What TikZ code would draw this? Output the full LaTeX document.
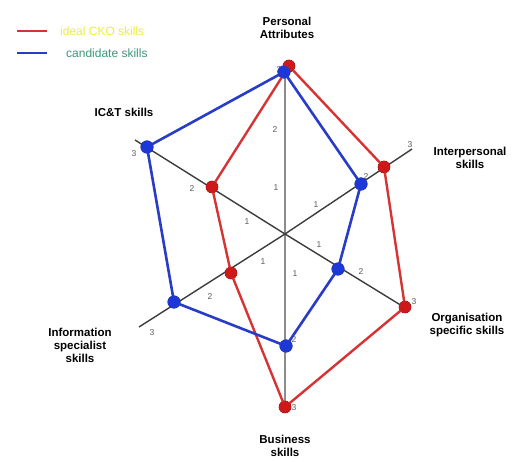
\documentclass[tikz,border=0pt]{standalone}
\usepackage{fontspec}
\setmainfont{Liberation Sans}
\definecolor{rdline}{RGB}{214,52,52}
\definecolor{rddot}{RGB}{205,25,25}
\definecolor{buline}{RGB}{40,60,200}
\definecolor{budot}{RGB}{30,55,215}
\definecolor{axcol}{RGB}{60,60,60}
\definecolor{vaxcol}{RGB}{140,140,140}
\definecolor{numcol}{RGB}{90,90,90}
\definecolor{ideal}{RGB}{236,236,60}
\definecolor{cand}{RGB}{60,150,120}
\tikzset{
  axisline/.style={draw=axcol,line width=1.4pt},
  vaxisline/.style={draw=vaxcol,line width=1.6pt},
  redpoly/.style={draw=rdline,line width=2.4pt,line join=round},
  bluepoly/.style={draw=buline,line width=2.6pt,line join=round},
  reddot/.style={circle,fill=rddot,draw=rddot!70!black,line width=0.6pt,minimum size=12pt,inner sep=0pt},
  bluedot/.style={circle,fill=budot,draw=budot!70!black,line width=0.6pt,minimum size=12.5pt,inner sep=0pt},
  axlabel/.style={font=\fontsize{11.5}{13}\selectfont\bfseries,align=center,text=black,inner sep=0pt},
  num/.style={font=\fontsize{8.5}{9}\selectfont,text=numcol,inner sep=0pt},
  legtext/.style={font=\fontsize{12}{14}\selectfont,inner sep=0pt,anchor=west}
}
\begin{document}
\begin{tikzpicture}[x=1pt,y=-1pt]
\useasboundingbox (0,0) rectangle (517,462);
% centre and axis ends
\coordinate (C) at (285,234);
\coordinate (ePA) at (285,66);
\coordinate (eBS) at (285,407);
\coordinate (eIP) at (412,149);
\coordinate (eIS) at (139,327);
\coordinate (eOS) at (407,309);
\coordinate (eIT) at (135,140);
% axes
\draw[vaxisline] (ePA) -- (eBS);
\draw[axisline] (C) -- (eIP);
\draw[axisline] (C) -- (eIS);
\draw[axisline] (C) -- (eOS);
\draw[axisline] (C) -- (eIT);
% tick numbers
\node[num] (n1) at (275,130) {2};
\node[num] (n2) at (276,188) {1};
\node[num] (n3) at (295,274) {1};
\node[num] (n4) at (316,205) {1};
\node[num] (n5) at (410,145) {3};
\node[num] (n6) at (319,245) {1};
\node[num] (n7) at (361,272) {2};
\node[num] (n8) at (192,189) {2};
\node[num] (n9) at (247,222) {1};
\node[num] (n10) at (134,154) {3};
\node[num] (n11) at (263,262) {1};
\node[num] (n12) at (210,297) {2};
\node[num] (n13) at (152,333) {3};
\node[num] (n14) at (279,70) {3};
\node[num] (n15) at (294,340) {2};
\node[num] (n16) at (294,408) {3};
\node[num] (n17) at (366,177) {2};
\node[num] (n18) at (414,302) {3};
% dots
\node[reddot] (rPA) at (289,66) {};
\node[reddot] (rIP) at (384,167) {};
\node[reddot] (rOS) at (405,307) {};
\node[reddot] (rBS) at (285,407) {};
\node[reddot] (rIS) at (231,273) {};
\node[reddot] (rIT) at (212,187) {};
\node[bluedot] (bPA) at (284,72) {};
\node[bluedot] (bIP) at (361,184) {};
\node[bluedot] (bOS) at (338,269) {};
\node[bluedot] (bBS) at (286,346) {};
\node[bluedot] (bIS) at (174,302) {};
\node[bluedot] (bIT) at (147,147) {};
% polygons
\draw[redpoly] (rPA.center) -- (rIP.center) -- (rOS.center) -- (rBS.center) -- (rIS.center) -- (rIT.center) -- cycle;
\draw[bluepoly] (bPA.center) -- (bIP.center) -- (bOS.center) -- (bBS.center) -- (bIS.center) -- (bIT.center) -- cycle;
% redraw dots on top
\foreach \d in {rPA,rIP,rOS,rBS,rIS,rIT}{\fill[rddot] (\d) circle (5.8pt);}
\foreach \d in {bPA,bIP,bOS,bBS,bIS,bIT}{\fill[budot] (\d) circle (6.1pt);}
% axis labels
\node[axlabel] (lPA) at (287,28) {Personal\\Attributes};
\node[axlabel] (lIP) at (470,158) {Interpersonal\\skills};
\node[axlabel] (lOS) at (467,325) {Organisation\\specific skills};
\node[axlabel] (lBS) at (285,446) {Business\\skills};
\node[axlabel] (lIS) at (80,345) {Information\\specialist\\skills};
\node[axlabel] (lIT) at (124,112) {IC\&T skills};
% legend
\coordinate (lr1) at (17,31);
\coordinate (lr2) at (47,31);
\coordinate (lb1) at (17,53);
\coordinate (lb2) at (47,53);
\draw[draw=rdline,line width=2.8pt] (lr1) -- (lr2);
\draw[draw=buline,line width=2.8pt] (lb1) -- (lb2);
\node[legtext,text=ideal] (t1) at (60,31) {ideal CKO skills};
\node[legtext,text=cand] (t2) at (66,53) {candidate skills};
\end{tikzpicture}
\end{document}
